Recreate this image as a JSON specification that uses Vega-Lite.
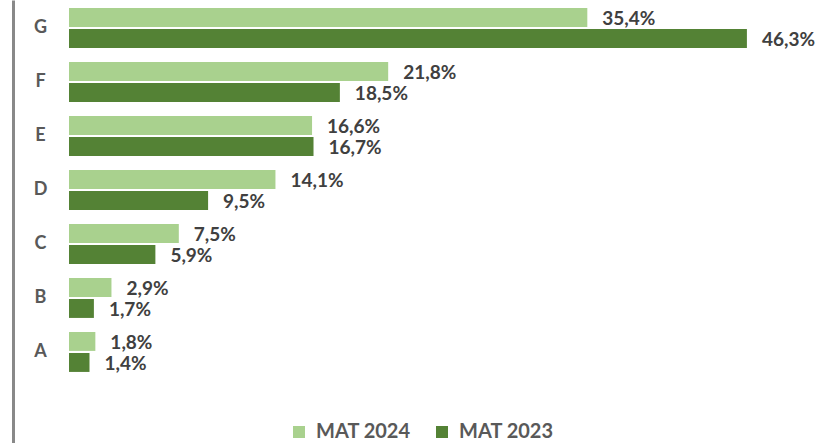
{
  "$schema": "https://vega.github.io/schema/vega-lite/v6.json",
  "width": 758,
  "height": 443,
  "padding": {"left": 69, "top": 0, "right": 0, "bottom": 0},
  "autosize": {"type": "none"},
  "background": "white",
  "config": {"view": {"stroke": null}},
  "data": {
    "values": [
      {"cat": "G", "series": "MAT 2024", "v": 0.354},
      {"cat": "G", "series": "MAT 2023", "v": 0.463},
      {"cat": "F", "series": "MAT 2024", "v": 0.218},
      {"cat": "F", "series": "MAT 2023", "v": 0.185},
      {"cat": "E", "series": "MAT 2024", "v": 0.166},
      {"cat": "E", "series": "MAT 2023", "v": 0.167},
      {"cat": "D", "series": "MAT 2024", "v": 0.141},
      {"cat": "D", "series": "MAT 2023", "v": 0.095},
      {"cat": "C", "series": "MAT 2024", "v": 0.075},
      {"cat": "C", "series": "MAT 2023", "v": 0.059},
      {"cat": "B", "series": "MAT 2024", "v": 0.029},
      {"cat": "B", "series": "MAT 2023", "v": 0.017},
      {"cat": "A", "series": "MAT 2024", "v": 0.018},
      {"cat": "A", "series": "MAT 2023", "v": 0.014}
    ]
  },
  "transform": [
    {"calculate": "replace(format(datum.v, '.1%'), '.', ',')", "as": "label"}
  ],
  "encoding": {
    "y": {
      "field": "cat",
      "type": "nominal",
      "sort": ["G", "F", "E", "D", "C", "B", "A"],
      "scale": {"paddingInner": 0.26, "paddingOuter": 0.732, "align": 0.101},
      "axis": {
        "title": null,
        "orient": "left",
        "offset": 56,
        "domainColor": "#898989",
        "domainWidth": 3,
        "ticks": false,
        "tickSize": 0,
        "labelPadding": -27,
        "labelAlign": "center",
        "labelFont": "Lato",
        "labelFontSize": 18,
        "labelFontWeight": "bold",
        "labelColor": "#595959"
      }
    },
    "yOffset": {
      "field": "series",
      "type": "nominal",
      "sort": ["MAT 2024", "MAT 2023"],
      "scale": {"paddingInner": 0.1}
    },
    "x": {
      "field": "v",
      "type": "quantitative",
      "scale": {"domain": [0, 0.5177]},
      "axis": null
    }
  },
  "layer": [
    {
      "mark": {"type": "bar"},
      "encoding": {
        "color": {
          "field": "series",
          "type": "nominal",
          "scale": {"domain": ["MAT 2024", "MAT 2023"], "range": ["#A9D18E", "#548235"]},
          "legend": {
            "title": null,
            "orient": "none",
            "direction": "horizontal",
            "legendX": 220,
            "legendY": 422,
            "padding": 0,
            "symbolType": "square",
            "symbolSize": 144,
            "symbolStrokeWidth": 0,
            "labelFont": "Lato",
            "labelFontSize": 20,
            "labelFontWeight": "bold",
            "labelColor": "#595959",
            "labelOffset": 7,
            "columnPadding": 21
          }
        }
      }
    },
    {
      "mark": {
        "type": "text",
        "align": "left",
        "baseline": "middle",
        "dx": 15,
        "dy": 2,
        "font": "Lato",
        "fontSize": 19,
        "fontWeight": "bold",
        "color": "#404040"
      },
      "encoding": {"text": {"field": "label"}}
    }
  ]
}
